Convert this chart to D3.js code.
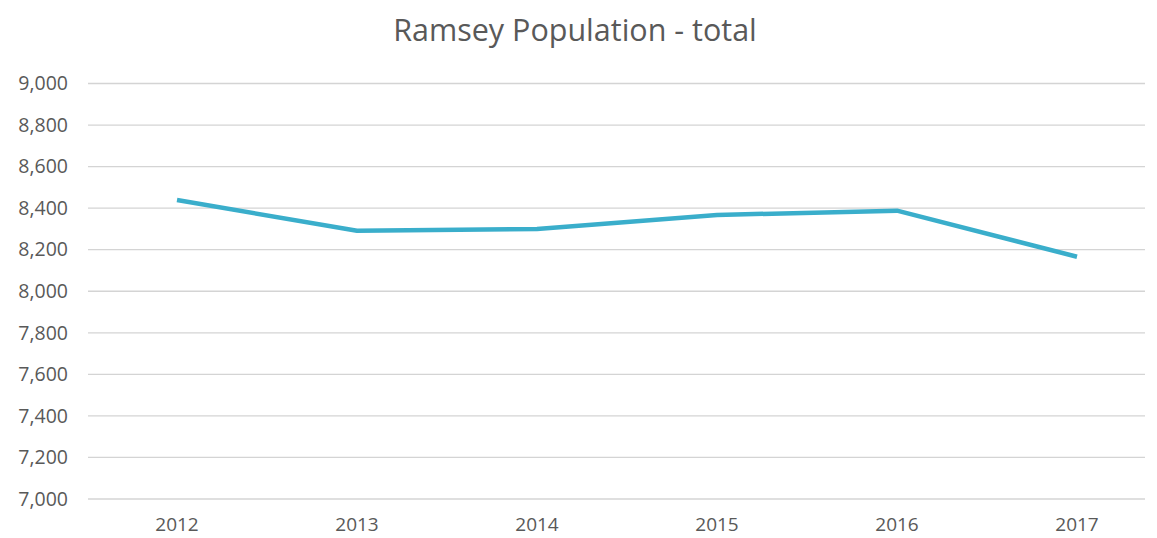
<!DOCTYPE html>
<html>

<head>
    <title>Ramsey Population - total</title>
    <script src="https://d3js.org/d3.v7.min.js"></script>
    <style>
        body {
            margin: 0;
            background: #fff;
        }

        text {
            font-family: "Open Sans", sans-serif;
            fill: #595959;
        }
    </style>
</head>

<body>
    <div id="svg"></div>
    <script>
        var years = ["2012", "2013", "2014", "2015", "2016", "2017"];
        var population = [8439, 8291, 8300, 8367, 8388, 8166];
        var yTicks = [7000, 7200, 7400, 7600, 7800, 8000, 8200, 8400, 8600, 8800, 9000];

        var width = 1157,
            height = 538;

        var svg = d3.select("#svg")
            .append("svg")
            .attr("width", width)
            .attr("height", height);

        var x = d3.scaleBand()
            .domain(years)
            .range([87, 1167]);

        var y = d3.scaleLinear()
            .domain([7000, 9000])
            .range([499, 83.5]);

        // gridlines
        svg.append("g")
            .selectAll("line")
            .data(yTicks)
            .enter()
            .append("line")
            .attr("x1", 88)
            .attr("x2", 1145)
            .attr("y1", function (d) { return y(d); })
            .attr("y2", function (d) { return y(d); })
            .style("stroke", "#d4d4d4")
            .style("stroke-width", 1.3);

        // y axis labels
        var yAxis = d3.axisLeft(y)
            .tickValues(yTicks)
            .tickFormat(d3.format(","))
            .tickSize(0)
            .tickPadding(0);

        svg.append("g")
            .attr("transform", "translate(68,0)")
            .call(yAxis)
            .call(function (g) { g.select(".domain").remove(); })
            .selectAll("text")
            .style("font-size", "19.5px")
            .style("fill", "#595959");

        // x axis labels
        var xAxis = d3.axisBottom(x)
            .tickSize(0)
            .tickPadding(0);

        svg.append("g")
            .attr("transform", "translate(0,517)")
            .call(xAxis)
            .call(function (g) { g.select(".domain").remove(); })
            .selectAll("text")
            .style("font-size", "19px")
            .style("fill", "#595959");

        // line
        var line = d3.line()
            .x(function (d, i) { return x(years[i]) + x.bandwidth() / 2; })
            .y(function (d) { return y(d); });

        svg.append("path")
            .datum(population)
            .attr("d", line)
            .style("fill", "none")
            .style("stroke", "#3aaecb")
            .style("stroke-width", 4.5)
            .style("stroke-linejoin", "round");

        // title
        svg.append("text")
            .attr("x", 575)
            .attr("y", 41)
            .style("text-anchor", "middle")
            .style("font-size", "30.5px")
            .style("fill", "#595959")
            .text("Ramsey Population - total");
    </script>
</body>

</html>
